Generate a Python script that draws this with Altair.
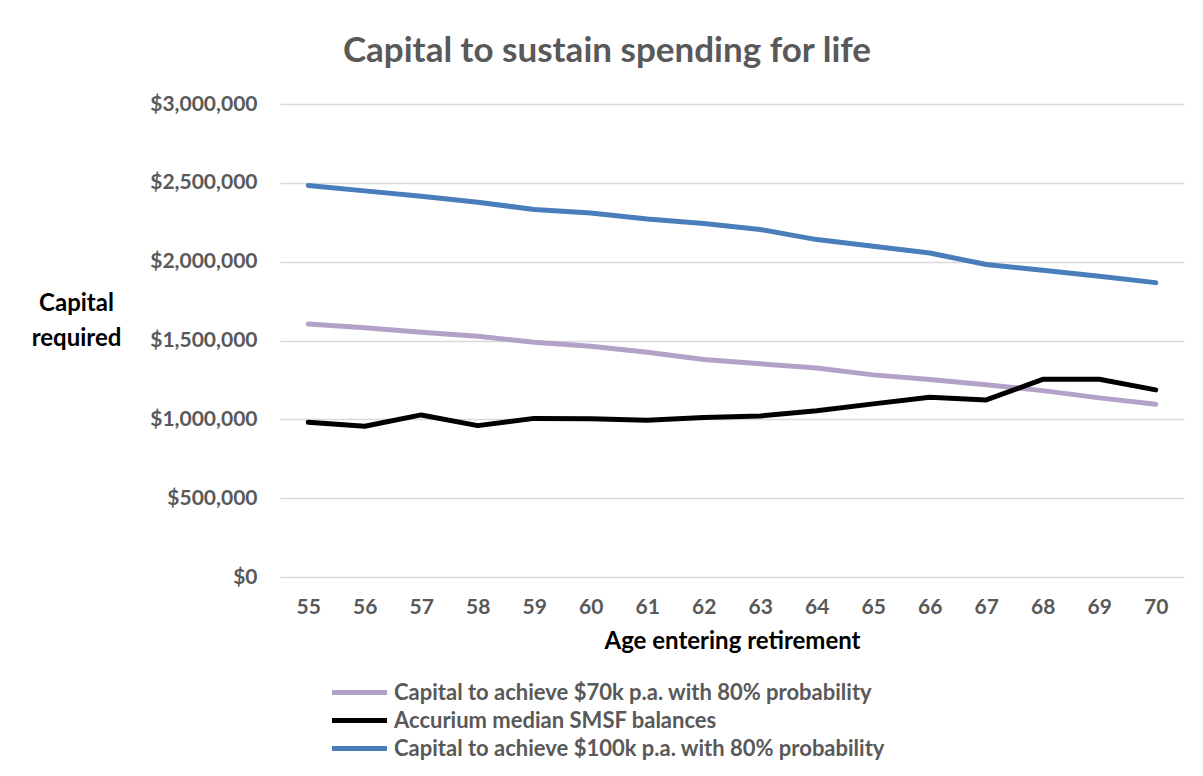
import altair as alt
import pandas as pd

ages = list(range(55, 71))

cap_70k = [1604000, 1581000, 1553000, 1527000, 1489000, 1464000, 1426000, 1379000,
           1352000, 1326000, 1282000, 1252000, 1220000, 1182000, 1136000, 1095000]
smsf_median = [981000, 956000, 1028000, 960000, 1006000, 1004000, 994000, 1011000,
               1021000, 1055000, 1098000, 1140000, 1123000, 1254000, 1254000, 1187000]
cap_100k = [2483000, 2449000, 2415000, 2377000, 2331000, 2309000, 2271000, 2242000,
            2204000, 2140000, 2098000, 2055000, 1982000, 1945000, 1907000, 1867000]

series_names = [
    "Capital to achieve $70k p.a. with 80% probability",
    "Accurium median SMSF balances",
    "Capital to achieve $100k p.a. with 80% probability",
]
series_colors = ["#b3a2c7", "#000000", "#4a7ebb"]
title_text = "Capital to sustain spending for life"

rows = []
for name, values in zip(series_names, [cap_70k, smsf_median, cap_100k]):
    for age, v in zip(ages, values):
        rows.append({"age": age, "value": v, "series": name})
df = pd.DataFrame(rows)

FONT = "Lato"
GREY = "#595959"

lines = alt.Chart(df).mark_line(strokeWidth=5, strokeCap="round", strokeJoin="round").encode(
    x=alt.X(
        "age:O",
        scale=alt.Scale(type="point", padding=0.5),
        axis=alt.Axis(
            title="Age entering retirement",
            labelAngle=0,
            labelFontSize=21,
            labelFont=FONT,
            labelFontWeight="bold",
            labelColor=GREY,
            labelPadding=19,
            ticks=False,
            domain=False,
            titleFontSize=24,
            titleFont=FONT,
            titleFontWeight="bold",
            titleColor="#000000",
            titlePadding=12,
        ),
    ),
    y=alt.Y(
        "value:Q",
        scale=alt.Scale(domain=[0, 3000000]),
        axis=alt.Axis(
            title=["Capital", "required"],
            titleAngle=0,
            titleAlign="center",
            titleBaseline="middle",
            titleX=-204,
            titleY=199,
            titleLineHeight=35,
            titleFontSize=24,
            titleFont=FONT,
            titleFontWeight="bold",
            titleColor="#000000",
            values=[0, 500000, 1000000, 1500000, 2000000, 2500000, 3000000],
            format="$,.0f",
            labelFontSize=21,
            labelFont=FONT,
            labelFontWeight="bold",
            labelColor=GREY,
            labelPadding=23,
            ticks=False,
            domain=False,
            grid=True,
            gridColor="#d9d9d9",
            gridWidth=1.5,
        ),
    ),
    color=alt.Color(
        "series:N",
        scale=alt.Scale(domain=series_names, range=series_colors),
        legend=alt.Legend(
            title=None,
            orient="none",
            legendX=63,
            legendY=572,
            symbolType="M-2,0H2",
            symbolSize=756,
            symbolStrokeWidth=5,
            labelFontSize=22,
            labelFont=FONT,
            labelFontWeight="bold",
            labelColor=GREY,
            labelOffset=18,
            rowPadding=0,
            labelLimit=700,
        ),
    ),
    order=alt.Order("age:O"),
)

# chart heading, centred over the whole chart area
heading = alt.Chart(pd.DataFrame({"t": [title_text]})).mark_text(
    font=FONT, fontSize=35, fontWeight="bold", color=GREY,
    align="center", baseline="middle",
).encode(x=alt.value(327), y=alt.value(-53), text="t:N")

chart = alt.layer(heading, lines).properties(
    width=904,
    height=473,
    autosize=alt.AutoSizeParams(type="none"),
    padding={"left": 280, "top": 104, "right": 19, "bottom": 199},
).configure_view(stroke=None)

chart.save("out.html", embed_options={"renderer": "svg", "actions": False})
